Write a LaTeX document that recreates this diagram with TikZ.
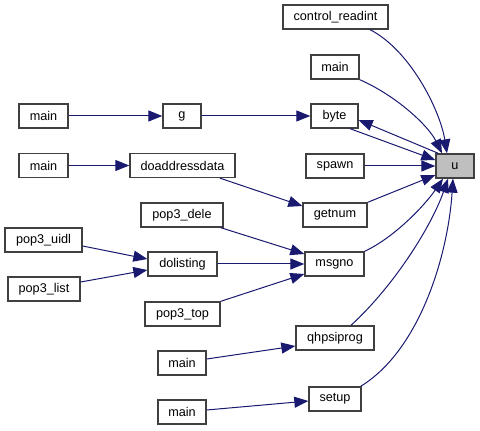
\documentclass[tikz,border=0pt]{standalone}
\usepackage{fontspec}
\setmainfont{Liberation Sans}
\usetikzlibrary{arrows.meta}
\definecolor{edgeC}{HTML}{191970}
\definecolor{boxC}{HTML}{404040}
\definecolor{rootC}{HTML}{BFBFBF}
\begin{document}
\begin{tikzpicture}
  [x=0.75pt,y=-0.75pt,
   fnN/.style={draw=boxC,fill=white,line width=1pt,minimum height=18pt,
               inner sep=0pt,font=\fontsize{9.5}{11}\selectfont},
   rootN/.style={fnN,fill=rootC},
   callE/.style={draw=edgeC,line width=0.75pt,-{Triangle[length=10.5pt,width=8.25pt]}}]

  \useasboundingbox (0,0) rectangle (480,431);

  % callee
  \node[rootN,minimum width=28.5pt] (u) at (455,166) {u};

  % direct callers
  \node[fnN,minimum width=78.75pt] (control_readint) at (335.5,17) {control\_readint};
  \node[fnN,minimum width=36pt] (mainA)   at (335,67)    {main};
  \node[fnN,minimum width=35.25pt] (byte) at (334.5,116) {byte};
  \node[fnN,minimum width=43.5pt] (spawn) at (335,166)   {spawn};
  \node[fnN,minimum width=48pt] (getnum)  at (335,215)   {getnum};
  \node[fnN,minimum width=44.25pt] (msgno) at (334.5,264) {msgno};
  \node[fnN,minimum width=58.5pt] (qhpsiprog) at (335,338) {qhpsiprog};
  \node[fnN,minimum width=39pt] (setup)   at (335,399)   {setup};

  % second level
  \node[fnN,minimum width=28.5pt] (g)     at (182,116)   {g};
  \node[fnN,minimum width=78.75pt] (doaddressdata) at (182.5,165.5) {doaddressdata};
  \node[fnN,minimum width=61.5pt] (pop3_dele) at (182,215) {pop3\_dele};
  \node[fnN,minimum width=51.75pt] (dolisting) at (182.5,264) {dolisting};
  \node[fnN,minimum width=56.25pt] (pop3_top) at (182.5,314) {pop3\_top};
  \node[fnN,minimum width=36pt] (mainQ)   at (182,363)   {main};
  \node[fnN,minimum width=36pt] (mainS)   at (182,412)   {main};

  % third level
  \node[fnN,minimum width=36.75pt] (mainG) at (43.5,116)   {main};
  \node[fnN,minimum width=36.75pt] (mainD) at (43.5,165.5) {main};
  \node[fnN,minimum width=57.75pt] (pop3_uidl) at (43.5,240) {pop3\_uidl};
  \node[fnN,minimum width=54pt] (pop3_list) at (44,289)  {pop3\_list};

  % edges into u
  \draw [callE] ([shift={(34.5,0)}]control_readint.south)
        .. controls (410,50) and (440,110) .. ([shift={(-8,0)}]u.north);
  \draw [callE] (mainA.south east)
        .. controls (395,95) and (428,125) .. ([shift={(-13,0)}]u.north);
  \draw [callE] ([shift={(15.5,0)}]byte.south) -- ([shift={(0,-6)}]u.west);
  \draw [callE] ([shift={(3,0)}]u.north west) -- ([shift={(0,4)}]byte.east);
  \draw [callE] (spawn) -- (u);
  \draw [callE] (getnum.north east) -- ([shift={(0,9)}]u.west);
  \draw [callE] (msgno.north east)
        .. controls (395,237) and (425,205) .. ([shift={(-12,0)}]u.south);
  \draw [callE] ([shift={(16,0)}]qhpsiprog.north)
        .. controls (395,285) and (432,225) .. ([shift={(-7,0)}]u.south);
  \draw [callE] ([shift={(-1,0)}]setup.north east)
        .. controls (420,350) and (448,255) .. ([shift={(-2,0)}]u.south);

  % the rest
  \draw [callE] (g) -- (byte);
  \draw [callE] (mainG) -- (g);
  \draw [callE] (mainD) -- (doaddressdata);
  \draw [callE] ([shift={(37.5,0)}]doaddressdata.south) -- ([shift={(0,-9)}]getnum.west);
  \draw [callE] ([shift={(-3,0)}]pop3_dele.south east) -- ([shift={(0,-10)}]msgno.west);
  \draw [callE] (dolisting) -- (msgno);
  \draw [callE] (pop3_top.north east) -- ([shift={(0,10)}]msgno.west);
  \draw [callE] ([shift={(0,6)}]pop3_uidl.east) -- ([shift={(0,-5)}]dolisting.west);
  \draw [callE] ([shift={(0,-7)}]pop3_list.east) -- ([shift={(0,6)}]dolisting.west);
  \draw [callE] ([shift={(0,-4)}]mainQ.east) -- ([shift={(0,8)}]qhpsiprog.west);
  \draw [callE] ([shift={(0,-2)}]mainS.east) -- ([shift={(0,2)}]setup.west);
\end{tikzpicture}
\end{document}
